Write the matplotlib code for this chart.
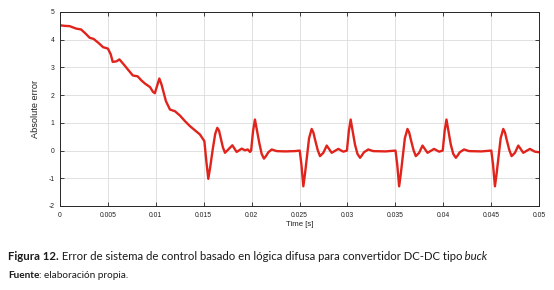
import matplotlib
matplotlib.use("Agg")
import matplotlib.pyplot as plt

# ---- data ----
t = [0, 0.0005, 0.001, 0.0017, 0.0022, 0.0027, 0.0031, 0.0035, 0.004, 0.0045,
     0.005, 0.0053, 0.0055, 0.0059, 0.0062, 0.0066, 0.0071, 0.0076, 0.0081, 0.0085,
     0.0089, 0.0094, 0.0097, 0.0099, 0.0101, 0.01037, 0.0106, 0.01106, 0.01148, 0.012,
     0.01253, 0.01305, 0.01357, 0.01409, 0.01461, 0.01496, 0.01507,
     # cycle 1
     0.01528, 0.01548, 0.0157, 0.01594, 0.0162, 0.01642, 0.0166, 0.01677, 0.017, 0.01722,
     0.01757, 0.01799, 0.01844, 0.01897, 0.01931, 0.0196, 0.01983, 0.01995, 0.02015, 0.02035,
     0.02055, 0.0208, 0.02105, 0.02129, 0.0215, 0.02175, 0.0221, 0.02262, 0.0235, 0.0245, 0.02502,
     # cycle 2
     0.0252, 0.0254, 0.02557, 0.02575, 0.026, 0.02627, 0.02645, 0.02662, 0.0269, 0.02714,
     0.02749, 0.02784, 0.02836, 0.02905, 0.02957, 0.02995, 0.03015, 0.03034, 0.03055, 0.03079,
     0.03105, 0.03132, 0.0315, 0.03173, 0.03218, 0.0327, 0.034, 0.03502,
     # cycle 3
     0.0352, 0.0354, 0.03557, 0.03575, 0.036, 0.03627, 0.03645, 0.03662, 0.0369, 0.03714,
     0.03749, 0.03784, 0.03836, 0.03905, 0.03957, 0.03995, 0.04015, 0.04034, 0.04055, 0.04079,
     0.04105, 0.04132, 0.0415, 0.04173, 0.04218, 0.0427, 0.044, 0.04502,
     # cycle 4
     0.0452, 0.0454, 0.04557, 0.04575, 0.046, 0.04627, 0.04645, 0.04662, 0.0469, 0.04714,
     0.04749, 0.04784, 0.04836, 0.04905, 0.04957, 0.05]
error = [4.52, 4.50, 4.49, 4.40, 4.37, 4.21, 4.07, 4.03, 3.89, 3.73,
         3.68, 3.47, 3.20, 3.22, 3.29, 3.13, 2.92, 2.71, 2.68, 2.53,
         2.41, 2.29, 2.12, 2.07, 2.30, 2.60, 2.38, 1.78, 1.48, 1.42,
         1.26, 1.06, 0.88, 0.73, 0.58, 0.40, 0.34,
         -0.40, -1.02, -0.55, 0.04, 0.60, 0.82, 0.72, 0.46, 0.12, -0.08,
         0.04, 0.19, -0.05, 0.07, 0.01, 0.04, -0.05, 0.00, 0.70, 1.12,
         0.75, 0.28, -0.12, -0.29, -0.20, -0.06, 0.04, -0.02, -0.03, -0.02, 0.00,
         -0.50, -1.29, -0.85, -0.32, 0.45, 0.78, 0.65, 0.40, 0.02, -0.20,
         -0.08, 0.18, -0.08, 0.06, -0.04, 0.00, 0.70, 1.12, 0.70, 0.22,
         -0.12, -0.26, -0.18, -0.06, 0.04, -0.02, -0.03, 0.00,
         -0.50, -1.29, -0.85, -0.32, 0.45, 0.78, 0.65, 0.40, 0.02, -0.20,
         -0.08, 0.18, -0.08, 0.06, -0.04, 0.00, 0.70, 1.12, 0.70, 0.22,
         -0.12, -0.26, -0.18, -0.06, 0.04, -0.02, -0.03, 0.00,
         -0.50, -1.29, -0.85, -0.32, 0.45, 0.78, 0.65, 0.40, 0.02, -0.20,
         -0.08, 0.18, -0.08, 0.06, -0.04, -0.06]

xticks = [0, 0.005, 0.01, 0.015, 0.02, 0.025, 0.03, 0.035, 0.04, 0.045, 0.05]
xticklabels = ["0", "0.005", "0.01", "0.015", "0.02", "0.025", "0.03", "0.035", "0.04", "0.045", "0.05"]
yticks = [-2, -1, 0, 1, 2, 3, 4, 5]
yticklabels = ["-2", "-1", "0", "1", "2", "3", "4", "5"]

W, H = 554, 290
fig = plt.figure(figsize=(W / 100, H / 100), dpi=100)
ax = fig.add_axes([60 / W, 1 - 206 / H, (539 - 60) / W, (206 - 12) / H])

ax.plot(t, error, color="#e0241c", lw=1.7, solid_joinstyle="round")
ax.set_xlim(0, 0.05)
ax.set_ylim(-2, 5)
ax.set_xticks(xticks)
ax.set_xticklabels(xticklabels, family="Liberation Sans")
ax.set_yticks(yticks)
ax.set_yticklabels(yticklabels, family="Liberation Sans")
ax.tick_params(direction="in", length=3, width=0.6, labelsize=4.9, colors="#222222",
               top=True, right=True, pad=4)
ax.grid(True, color="#dcdcdc", lw=0.6)
ax.set_axisbelow(True)
for s in ax.spines.values():
    s.set_color("#262626")
    s.set_linewidth(0.7)
ax.set_xlabel("Time [s]", family="Liberation Sans", fontsize=5.6, color="#222222", labelpad=2)
ax.set_ylabel("Absolute error", family="Liberation Sans", fontsize=6.6, color="#222222", labelpad=6)

# caption
fam = "Lato"
renderer = fig.canvas.get_renderer()

def place(pieces, y, fs):
    x = 8
    for txt, w, st in pieces:
        tt = fig.text(x / W, y, txt, family=fam, fontsize=fs, fontweight=w, fontstyle=st,
                      color="#1a1a1a", va="baseline", ha="left")
        ext = tt.get_window_extent(renderer)
        x += ext.width

place([("Figura 12.", "bold", "normal"),
       (" Error de sistema de control basado en lógica difusa para convertidor DC-DC tipo", "normal", "normal"),
       (" buck", "normal", "italic")], 1 - 260 / H, 8.2)
place([("Fuente", "bold", "normal"), (": elaboración propia.", "normal", "normal")], 1 - 278 / H, 7.2)

fig.savefig("out.png", dpi=100)
